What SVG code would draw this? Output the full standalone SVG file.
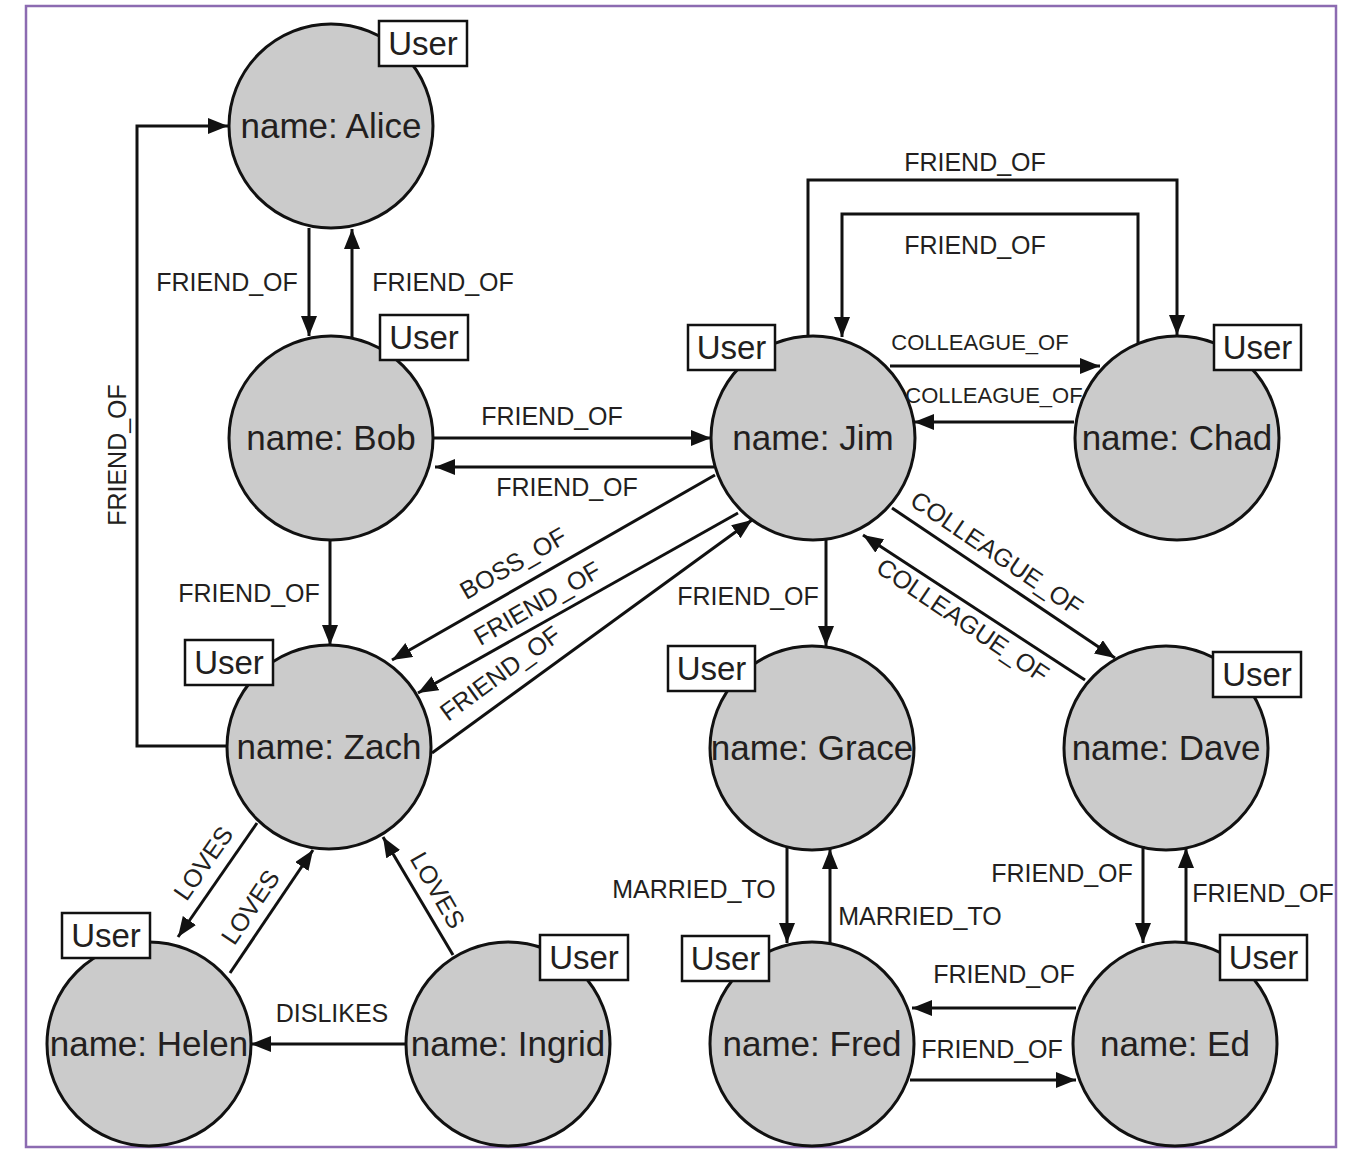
<svg xmlns="http://www.w3.org/2000/svg" width="1352" height="1149" viewBox="0 0 1352 1149">
<style>
.node ellipse{fill:#cbcbcb;stroke:#111;stroke-width:3}
.node rect{fill:#fff;stroke:#111;stroke-width:2.5}
.nl{font-family:"Liberation Sans",Arial,sans-serif;font-size:35px;fill:#231f20;text-anchor:middle}
.ul{font-family:"Liberation Sans",Arial,sans-serif;font-size:33px;fill:#231f20;text-anchor:middle}
.e{fill:none;stroke:#111;stroke-width:3;marker-end:url(#ah)}
.el{font-family:"Liberation Sans",Arial,sans-serif;font-size:25px;fill:#231f20;text-anchor:middle}
.es{font-family:"Liberation Sans",Arial,sans-serif;font-size:22px;fill:#231f20;text-anchor:middle}
</style>
<defs>
<marker id="ah" markerUnits="userSpaceOnUse" markerWidth="22" markerHeight="18" refX="20" refY="8" orient="auto" viewBox="0 0 22 18">
<path d="M0,0 L20,8 L0,16 z" fill="#111"/>
</marker>
</defs>
<rect x="0" y="0" width="1352" height="1149" fill="#fff"/>
<rect x="26" y="6" width="1310" height="1141" fill="none" stroke="#8c6bb1" stroke-width="2.5"/>

<g id="node-alice" class="node"><ellipse cx="331" cy="126" rx="102" ry="102"/><text class="nl" x="331" y="138">name: Alice</text><rect x="379" y="21" width="88" height="45"/><text class="ul" x="423" y="55">User</text></g>
<g id="node-bob" class="node"><ellipse cx="331" cy="438" rx="102" ry="102"/><text class="nl" x="331" y="450">name: Bob</text><rect x="380" y="315" width="88" height="45"/><text class="ul" x="424" y="349">User</text></g>
<g id="node-jim" class="node"><ellipse cx="813" cy="438" rx="102" ry="102"/><text class="nl" x="813" y="450">name: Jim</text><rect x="688" y="325" width="87" height="45"/><text class="ul" x="731.5" y="359">User</text></g>
<g id="node-chad" class="node"><ellipse cx="1177" cy="438" rx="102" ry="102"/><text class="nl" x="1177" y="450">name: Chad</text><rect x="1214" y="325" width="87" height="45"/><text class="ul" x="1257.5" y="359">User</text></g>
<g id="node-zach" class="node"><ellipse cx="329" cy="747" rx="102" ry="102"/><text class="nl" x="329" y="759">name: Zach</text><rect x="185" y="640" width="88" height="45"/><text class="ul" x="229" y="674">User</text></g>
<g id="node-grace" class="node"><ellipse cx="812" cy="748" rx="102" ry="102"/><text class="nl" x="812" y="760">name: Grace</text><rect x="668" y="646" width="87" height="45"/><text class="ul" x="711.5" y="680">User</text></g>
<g id="node-dave" class="node"><ellipse cx="1166" cy="748" rx="102" ry="102"/><text class="nl" x="1166" y="760">name: Dave</text><rect x="1213" y="652" width="88" height="45"/><text class="ul" x="1257" y="686">User</text></g>
<g id="node-helen" class="node"><ellipse cx="149" cy="1044" rx="102" ry="102"/><text class="nl" x="149" y="1056">name: Helen</text><rect x="62" y="913" width="88" height="45"/><text class="ul" x="106" y="947">User</text></g>
<g id="node-ingrid" class="node"><ellipse cx="508" cy="1044" rx="102" ry="102"/><text class="nl" x="508" y="1056">name: Ingrid</text><rect x="540" y="935" width="88" height="45"/><text class="ul" x="584" y="969">User</text></g>
<g id="node-fred" class="node"><ellipse cx="812" cy="1044" rx="102" ry="102"/><text class="nl" x="812" y="1056">name: Fred</text><rect x="682" y="936" width="87" height="45"/><text class="ul" x="725.5" y="970">User</text></g>
<g id="node-ed" class="node"><ellipse cx="1175" cy="1044" rx="102" ry="102"/><text class="nl" x="1175" y="1056">name: Ed</text><rect x="1220" y="935" width="87" height="45"/><text class="ul" x="1263.5" y="969">User</text></g>

<g id="connectors">
<path class="e" d="M309,228 V336"/>
<path class="e" d="M352,338 V229"/>
<path class="e" d="M227,746 H137 V126 H228"/>
<path class="e" d="M433,438 H711"/>
<path class="e" d="M714,467 H435"/>
<path class="e" d="M330,540 V645"/>
<path class="e" d="M808,336 V180 H1177 V335"/>
<path class="e" d="M1138,343 V214 H842 V337"/>
<path class="e" d="M890,366 H1100"/>
<path class="e" d="M1074,422 H914"/>
<path class="e" d="M715,475 L392,660"/>
<path class="e" d="M738,513 L418,693"/>
<path class="e" d="M432,753 L752,520"/>
<path class="e" d="M826,540 V646"/>
<path class="e" d="M892,508 L1115,658"/>
<path class="e" d="M1085,680 L863,535"/>
<path class="e" d="M787,847 V943"/>
<path class="e" d="M830,943 V849"/>
<path class="e" d="M1143,846 V943"/>
<path class="e" d="M1186,944 V848"/>
<path class="e" d="M1076,1008 H912"/>
<path class="e" d="M910,1080 H1076"/>
<path class="e" d="M257,823 L178,937"/>
<path class="e" d="M230,973 L313,850"/>
<path class="e" d="M453,955 L383,837"/>
<path class="e" d="M406,1044 H251"/>

<text class="el" x="227" y="291">FRIEND_OF</text>
<text class="el" x="443" y="291">FRIEND_OF</text>
<text class="el" transform="translate(126,455) rotate(-90)">FRIEND_OF</text>
<text class="el" x="552" y="425">FRIEND_OF</text>
<text class="el" x="567" y="496">FRIEND_OF</text>
<text class="el" x="249" y="602">FRIEND_OF</text>
<text class="el" x="975" y="171">FRIEND_OF</text>
<text class="el" x="975" y="254">FRIEND_OF</text>
<text class="es" x="980" y="350">COLLEAGUE_OF</text>
<text class="es" x="994" y="403">COLLEAGUE_OF</text>
<text class="el" transform="translate(513,563) rotate(-30)" y="9">BOSS_OF</text>
<text class="el" transform="translate(537,603) rotate(-30)" y="9">FRIEND_OF</text>
<text class="el" transform="translate(500,673) rotate(-36)" y="9">FRIEND_OF</text>
<text class="el" x="748" y="605">FRIEND_OF</text>
<text class="el" transform="translate(997,553) rotate(34)" y="9">COLLEAGUE_OF</text>
<text class="el" transform="translate(963,620) rotate(34)" y="9">COLLEAGUE_OF</text>
<text class="el" x="694" y="898">MARRIED_TO</text>
<text class="el" x="920" y="925">MARRIED_TO</text>
<text class="el" x="1062" y="882">FRIEND_OF</text>
<text class="el" x="1263" y="902">FRIEND_OF</text>
<text class="el" x="1004" y="983">FRIEND_OF</text>
<text class="el" x="992" y="1058">FRIEND_OF</text>
<text class="el" transform="translate(203,863) rotate(-55)" y="9">LOVES</text>
<text class="el" transform="translate(250,907) rotate(-56)" y="9">LOVES</text>
<text class="el" transform="translate(438,890) rotate(60)" y="9">LOVES</text>
<text class="el" x="332" y="1022">DISLIKES</text>
</g>
</svg>
